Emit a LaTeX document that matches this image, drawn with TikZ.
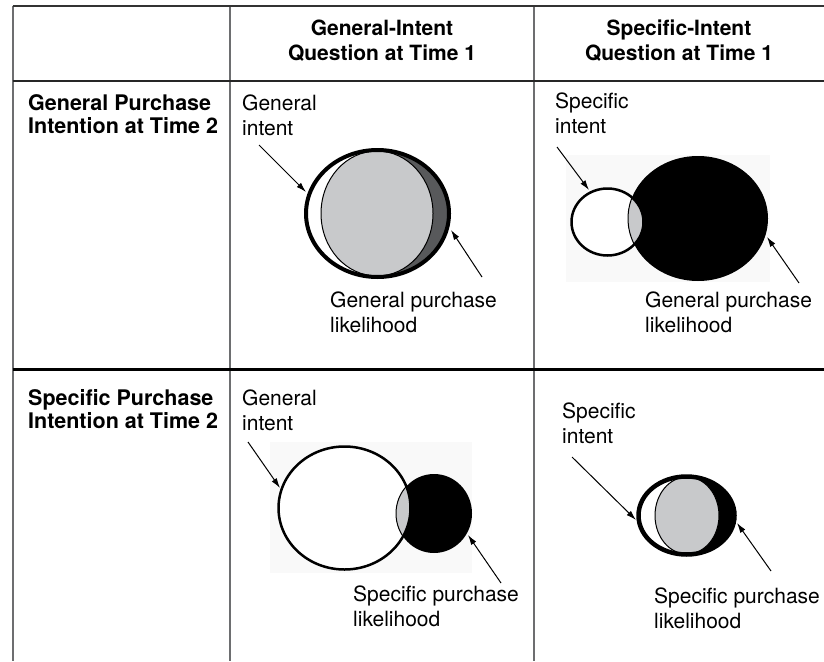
\documentclass[tikz,border=0pt]{standalone}
\usepackage{fontspec}
\setmainfont{TeX Gyre Heros}
\usetikzlibrary{arrows.meta}
\definecolor{lightg}{HTML}{C8C9CB}
\definecolor{darkg}{HTML}{58595B}
\definecolor{gridg}{HTML}{6D6E70}
\definecolor{faint}{HTML}{F9F9F9}
\begin{document}
\begin{tikzpicture}[x=1pt,y=-1pt,
  lbl/.style={anchor=north west, inner sep=0pt, align=left, font=\fontsize{21}{24.5}\selectfont},
  hdr/.style={anchor=north, inner sep=0pt, align=center, font=\fontsize{21}{25}\selectfont\bfseries},
  rowlbl/.style={anchor=north west, inner sep=0pt, align=left, font=\fontsize{21.5}{23.5}\selectfont\bfseries},
  ptr/.style={line width=1pt, -{Latex[length=10pt,width=6pt]}},
  vline/.style={gridg, line width=2pt},
]
\useasboundingbox (0,0) rectangle (824,661);

% grid
\draw[vline] (12.5,6) -- (12.5,661);
\draw[vline] (230,6) -- (230,661);
\draw[vline] (534,6) -- (534,661);
\draw[black!80, line width=1.5pt] (12.5,6) -- (824,6);
\draw[black!85, line width=1.5pt] (12.5,81) -- (824,81);
\draw[black, line width=3pt] (12.5,369) -- (824,369);

% headers
\node[hdr] (h1) at (382,20) {General-Intent\\Question at Time 1};
\node[hdr] (h2) at (679,20) {Specific-Intent\\Question at Time 1};
\node[rowlbl] (r1) at (28,94) {General Purchase\\Intention at Time 2};
\node[rowlbl] (r2) at (28,389) {Specific Purchase\\Intention at Time 2};

% ---------- Row 1, Col 1 ----------
\begin{scope}
  \clip (377.5,100) rectangle (470,300);
  \fill[darkg] (377.5,213.5) ellipse [x radius=71.5pt, y radius=63.5pt];
\end{scope}
\draw[fill=lightg, line width=1pt] (377,213.5) ellipse [x radius=56pt, y radius=62.5pt];
\draw[line width=4pt] (377.5,213.5) ellipse [x radius=71.5pt, y radius=63.5pt];
\node[lbl] (t11a) at (242,95) {General\\intent};
\node[lbl] (t11b) at (330,292) {General purchase\\likelihood};
\coordinate (a11s) at (259,145); \coordinate (a11e) at (306,192);
\coordinate (b11s) at (482,277); \coordinate (b11e) at (451,230);
\draw[ptr] (a11s) -- (a11e);
\draw[ptr] (b11s) -- (b11e);

% ---------- Row 1, Col 2 ----------
\fill[faint] (566,155) rectangle (770,282);
\fill[white] (607.5,222) ellipse [x radius=36pt, y radius=33.5pt];
\fill[black] (698,218.5) ellipse [x radius=70pt, y radius=62.5pt];
\begin{scope}
  \clip (607.5,222) ellipse [x radius=36pt, y radius=33.5pt];
  \fill[lightg] (698,218.5) ellipse [x radius=70pt, y radius=62.5pt];
  \draw[line width=1pt] (698,218.5) ellipse [x radius=70pt, y radius=62.5pt];
\end{scope}
\draw[line width=2.5pt] (607.5,222) ellipse [x radius=36pt, y radius=33.5pt];
\node[lbl] (t12a) at (555,93) {Specific\\intent};
\node[lbl] (t12b) at (645,292) {General purchase\\likelihood};
\coordinate (a12s) at (557,147); \coordinate (a12e) at (589,190);
\coordinate (b12s) at (799,283); \coordinate (b12e) at (767,237);
\draw[ptr] (a12s) -- (a12e);
\draw[ptr] (b12s) -- (b12e);

% ---------- Row 2, Col 1 ----------
\fill[faint] (270,442) rectangle (472,573);
\fill[white] (344.5,508) ellipse [x radius=66pt, y radius=61.5pt];
\fill[black] (434,513.5) ellipse [x radius=38pt, y radius=39.5pt];
\begin{scope}
  \clip (344.5,508) ellipse [x radius=66pt, y radius=61.5pt];
  \fill[lightg] (434,513.5) ellipse [x radius=38pt, y radius=39.5pt];
  \draw[line width=1pt] (434,513.5) ellipse [x radius=38pt, y radius=39.5pt];
\end{scope}
\draw[line width=2.5pt] (344.5,508) ellipse [x radius=66pt, y radius=61.5pt];
\node[lbl] (t21a) at (242,390) {General\\intent};
\node[lbl] (t21b) at (353,586) {Specific purchase\\likelihood};
\coordinate (a21s) at (248,442); \coordinate (a21e) at (280,488);
\coordinate (b21s) at (501,583); \coordinate (b21e) at (468,535);
\draw[ptr] (a21s) -- (a21e);
\draw[ptr] (b21s) -- (b21e);

% ---------- Row 2, Col 2 ----------
\begin{scope}
  \clip (686.5,450) rectangle (750,580);
  \fill[black] (686.5,515.5) ellipse [x radius=48pt, y radius=39pt];
\end{scope}
\draw[fill=lightg, line width=1pt] (687,515.5) ellipse [x radius=32pt, y radius=38.5pt];
\draw[line width=4.5pt] (686.5,515.5) ellipse [x radius=48pt, y radius=39pt];
\node[lbl] (t22a) at (562,403) {Specific\\intent};
\node[lbl] (t22b) at (654,588) {Specific purchase\\likelihood};
\coordinate (a22s) at (572,457); \coordinate (a22e) at (636,520);
\coordinate (b22s) at (771,571); \coordinate (b22e) at (737,523);
\draw[ptr] (a22s) -- (a22e);
\draw[ptr] (b22s) -- (b22e);
\end{tikzpicture}
\end{document}
